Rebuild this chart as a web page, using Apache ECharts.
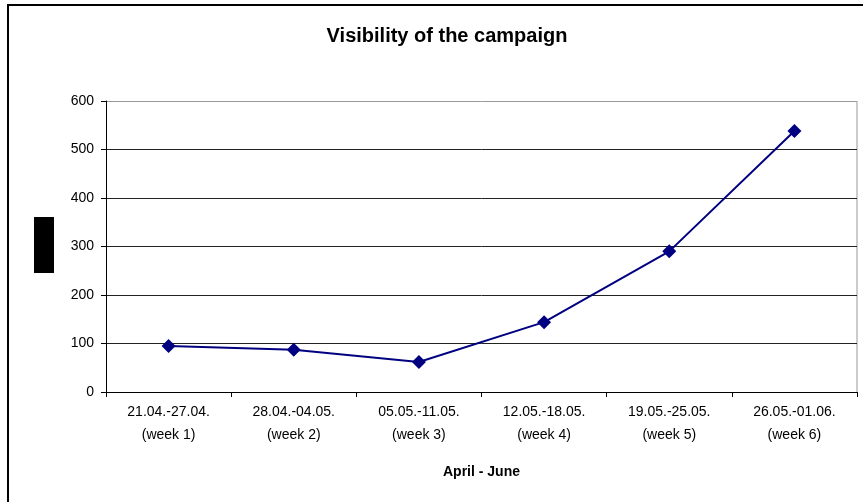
<!DOCTYPE html>
<html><head><meta charset="utf-8">
<script src="https://cdn.jsdelivr.net/npm/echarts@6/dist/echarts.min.js"></script>
<style>html,body{margin:0;padding:0;background:#fff}#c{width:863px;height:502px}</style>
</head><body><div id="c"></div>
<script>
var categories = ['21.04.-27.04.\n(week 1)','28.04.-04.05.\n(week 2)','05.05.-11.05.\n(week 3)','12.05.-18.05.\n(week 4)','19.05.-25.05.\n(week 5)','26.05.-01.06.\n(week 6)'];
var visibility = [95, 87, 62, 144, 290, 538];
var yTicks = [0, 100, 200, 300, 400, 500, 600];

var chart = echarts.init(document.getElementById('c'));
chart.setOption({
  animation: false,
  backgroundColor: '#fff',
  title: {
    text: 'Visibility of the campaign', left: 442, top: 21, textAlign: 'center',
    textStyle: { fontFamily: 'Liberation Sans, Arial', fontWeight: 'bold', fontSize: 20, color: '#000' }
  },
  graphic: [
    { type: 'rect', shape: { x: 8, y: 5, width: 900, height: 600 }, style: { fill: 'none', stroke: '#000', lineWidth: 2 } },
    { type: 'rect', shape: { x: 34, y: 217, width: 20, height: 56 }, style: { fill: '#000' } },
    { type: 'line', shape: { x1: 857, y1: 101, x2: 857, y2: 392 }, style: { stroke: '#999', lineWidth: 1 } }
  ],
  grid: { left: 106, right: 6, top: 101, bottom: 110, containLabel: false },
  xAxis: {
    type: 'category', data: categories, boundaryGap: true,
    name: 'April - June', nameLocation: 'middle', nameGap: 73,
    nameTextStyle: { fontFamily: 'Liberation Sans, Arial', fontWeight: 'bold', fontSize: 14, color: '#000' },
    axisLine: { lineStyle: { color: '#000', width: 1 } },
    axisTick: { show: true, length: 5, lineStyle: { color: '#000' } },
    axisLabel: { fontFamily: 'Liberation Sans, Arial', fontSize: 14, color: '#000', lineHeight: 23, margin: 9, interval: 0 },
    splitLine: { show: false }
  },
  yAxis: {
    type: 'value', min: 0, max: 600, interval: 100,
    axisLine: { show: true, lineStyle: { color: '#000', width: 1 } },
    axisTick: { show: true, length: 5, lineStyle: { color: '#000' } },
    axisLabel: { fontFamily: 'Liberation Sans, Arial', fontSize: 14, color: '#000', margin: 12,
      formatter: function (v) { return yTicks.indexOf(v) >= 0 ? String(v) : ''; } },
    splitLine: { show: true, lineStyle: { color: ['#222','#222','#222','#222','#222','#222','#999'], width: 1 } }
  },
  series: [{
    type: 'line', data: visibility,
    symbol: 'diamond', symbolSize: 14,
    lineStyle: { color: '#000080', width: 2 },
    itemStyle: { color: '#000080' }
  }]
});
</script></body></html>
